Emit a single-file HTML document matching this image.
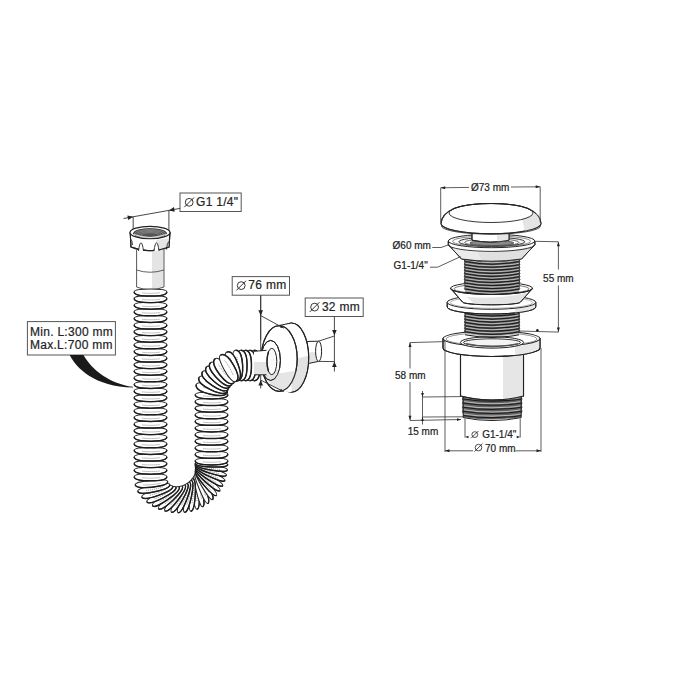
<!DOCTYPE html>
<html><head><meta charset="utf-8"><style>
html,body{margin:0;padding:0;background:#fff;}
svg{display:block;font-family:"Liberation Sans",sans-serif;}
</style></head><body>
<svg width="700" height="700" viewBox="0 0 700 700">
<defs><clipPath id="cupclip"><path d="M440,250 L545,250 L545,288.3 L532.5,288.3 A41,6.2 0 0 1 450.5,288.3 L440,288.3 Z"/></clipPath><clipPath id="cl1"><rect x="0" y="0" width="262.5" height="700"/></clipPath></defs>
<rect width="700" height="700" fill="#fff"/>
<rect x="180" y="193" width="61.2" height="18.5" fill="#fff" stroke="#555" stroke-width="1.0"/>
<circle cx="189.2" cy="202.3" r="3.9" fill="none" stroke="#222" stroke-width="0.9"/>
<line x1="184.32" y1="207.18" x2="194.07" y2="197.43" stroke="#222" stroke-width="0.9"/>
<text x="196" y="206.4" font-size="12" text-anchor="start" fill="#222" stroke="#222" stroke-width="0.2" letter-spacing="0.3" >G1 1/4"</text>
<line x1="123.5" y1="218.5" x2="180" y2="208.4" stroke="#333" stroke-width="0.9"/>
<line x1="133.2" y1="217" x2="133.2" y2="232" stroke="#333" stroke-width="0.9"/>
<line x1="168.9" y1="210.5" x2="168.9" y2="232" stroke="#333" stroke-width="0.9"/>
<path d="M133.2,216.8 L128.2,220.12 L127.37,215.4 Z" fill="#222"/>
<path d="M168.9,210.4 L173.9,207.08 L174.73,211.8 Z" fill="#222"/>
<path d="M136.6,250 L136.6,287 Q150,292.5 164,287 L164,250 Z" fill="#fff" stroke="none" stroke-width="1.0" />
<path d="M152,250 L163.6,250 L163.6,287.2 Q158,289.6 152,290.2 Z" fill="#e4e4e4"/>
<path d="M136.6,250 L136.6,287 Q150,292.5 164,287 L164,250" fill="none" stroke="#3a3a3a" stroke-width="0.85" />
<path d="M136.6,270 Q150,274.5 164,270" fill="none" stroke="#3a3a3a" stroke-width="0.8" />
<path d="M130.2,232.5 L131,247 Q150,254.5 169,247 L170,232.5 Z" fill="#fff" stroke="#222" stroke-width="1.1" />
<path d="M156,240 L169.5,238 L169,247 Q160,251 156,251.5 Z" fill="#e6e6e6"/>
<path d="M130.2,232.5 L131,247 Q150,254.5 169,247 L170,232.5" fill="none" stroke="#222" stroke-width="1.1" />
<path d="M138.5,251 Q139.5,243 141,242.8 Q142.5,243 143.5,251" fill="#fff" stroke="#222" stroke-width="0.9" />
<path d="M154.0,251 Q155.0,243 156.5,242.8 Q158.0,243 159.0,251" fill="#fff" stroke="#222" stroke-width="0.9" />
<path d="M166.5,249.5 Q167,243 168.8,241.5" fill="none" stroke="#222" stroke-width="0.9" />
<path d="M132.5,245 Q132.3,241 131.2,239.5" fill="none" stroke="#222" stroke-width="0.8" />
<ellipse cx="150" cy="232.5" rx="20" ry="6.2" fill="#fff" stroke="#222" stroke-width="1.2" />
<ellipse cx="150" cy="233.3" rx="16.5" ry="4.6" fill="#555" stroke="#222" stroke-width="0.9" />
<ellipse cx="150" cy="233.6" rx="15.5" ry="4.2" fill="none" stroke="#aaa" stroke-width="0.5" />
<ellipse cx="150" cy="234.1" rx="13.3" ry="3.6" fill="none" stroke="#aaa" stroke-width="0.5" />
<ellipse cx="150" cy="234.6" rx="11.1" ry="3" fill="none" stroke="#aaa" stroke-width="0.5" />
<ellipse cx="150" cy="235.1" rx="8.9" ry="2.4" fill="none" stroke="#aaa" stroke-width="0.5" />
<path d="M134,234.5 Q150,240.5 166,234.5" fill="none" stroke="#eee" stroke-width="0.9" />
<path d="M193.76,476.85 C191.94,477.02 192.2,485.18 192.97,493.3 C193.74,501.41 195.03,509.47 196.85,509.3 C199.56,509.04 199.55,500.86 198.78,492.74 C198,484.63 196.47,476.59 193.76,476.85 Z" fill="#fff" stroke="#262626" stroke-width="1.05" />
<path d="M196.85,509.3 C199.56,509.04 199.55,500.86 198.78,492.74 C198,484.63 196.47,476.59 193.76,476.85" fill="none" stroke="#1e1e1e" stroke-width="1.45" />
<path d="M195.35,484.06 Q197.3,492.88 197.05,501.91" fill="none" stroke="#666" stroke-width="0.7" stroke-dasharray="1.1 0.9"/>
<path d="M194.62,475.1 C192.87,475.54 194.36,483.56 196.34,491.47 C198.32,499.37 200.8,507.16 202.54,506.72 C205.15,506.07 203.9,497.98 201.92,490.07 C199.94,482.16 197.22,474.44 194.62,475.1 Z" fill="#fff" stroke="#262626" stroke-width="1.05" />
<path d="M202.54,506.72 C205.15,506.07 203.9,497.98 201.92,490.07 C199.94,482.16 197.22,474.44 194.62,475.1" fill="none" stroke="#1e1e1e" stroke-width="1.45" />
<path d="M197.27,481.99 Q200.52,490.42 201.63,499.38" fill="none" stroke="#666" stroke-width="0.7" stroke-dasharray="1.1 0.9"/>
<path d="M192.63,478.62 C190.77,478.51 189.79,486.62 189.33,494.76 C188.87,502.89 188.93,511.06 190.79,511.17 C193.54,511.32 194.78,503.23 195.24,495.09 C195.7,486.95 195.38,478.77 192.63,478.62 Z" fill="#fff" stroke="#262626" stroke-width="1.05" />
<path d="M190.79,511.17 C193.54,511.32 194.78,503.23 195.24,495.09 C195.7,486.95 195.38,478.77 192.63,478.62" fill="none" stroke="#1e1e1e" stroke-width="1.45" />
<path d="M193.12,485.99 Q193.71,495.01 192.1,503.89" fill="none" stroke="#666" stroke-width="0.7" stroke-dasharray="1.1 0.9"/>
<path d="M195.22,473.39 C193.58,474.07 196.26,481.79 199.4,489.31 C202.53,496.83 206.13,504.16 207.77,503.48 C210.22,502.45 207.77,494.64 204.63,487.12 C201.5,479.6 197.67,472.37 195.22,473.39 Z" fill="#fff" stroke="#262626" stroke-width="1.05" />
<path d="M207.77,503.48 C210.22,502.45 207.77,494.64 204.63,487.12 C201.5,479.6 197.67,472.37 195.22,473.39" fill="none" stroke="#1e1e1e" stroke-width="1.45" />
<path d="M198.87,479.81 Q203.34,487.66 205.78,496.36" fill="none" stroke="#666" stroke-width="0.7" stroke-dasharray="1.1 0.9"/>
<path d="M191.2,480.38 C189.35,479.99 187.14,487.85 185.46,495.82 C183.77,503.8 182.61,511.88 184.46,512.27 C187.19,512.85 189.64,505.04 191.33,497.06 C193.02,489.09 193.93,480.95 191.2,480.38 Z" fill="#fff" stroke="#262626" stroke-width="1.05" />
<path d="M184.46,512.27 C187.19,512.85 189.64,505.04 191.33,497.06 C193.02,489.09 193.93,480.95 191.2,480.38" fill="none" stroke="#1e1e1e" stroke-width="1.45" />
<path d="M190.57,487.74 Q189.79,496.74 186.86,505.28" fill="none" stroke="#666" stroke-width="0.7" stroke-dasharray="1.1 0.9"/>
<path d="M195.59,471.75 C194.1,472.65 197.89,479.88 202.11,486.86 C206.33,493.83 210.96,500.55 212.45,499.65 C214.7,498.29 211.12,490.94 206.9,483.96 C202.69,476.99 197.84,470.39 195.59,471.75 Z" fill="#fff" stroke="#262626" stroke-width="1.05" />
<path d="M212.45,499.65 C214.7,498.29 211.12,490.94 206.9,483.96 C202.69,476.99 197.84,470.39 195.59,471.75" fill="none" stroke="#1e1e1e" stroke-width="1.45" />
<path d="M200.16,477.56 Q205.74,484.67 209.43,492.91" fill="none" stroke="#666" stroke-width="0.7" stroke-dasharray="1.1 0.9"/>
<path d="M189.46,482.09 C187.66,481.41 184.27,488.84 181.4,496.47 C178.53,504.1 176.16,511.92 177.96,512.59 C180.61,513.59 184.22,506.24 187.1,498.62 C189.97,490.99 192.1,483.08 189.46,482.09 Z" fill="#fff" stroke="#262626" stroke-width="1.05" />
<path d="M177.96,512.59 C180.61,513.59 184.22,506.24 187.1,498.62 C189.97,490.99 192.1,483.08 189.46,482.09" fill="none" stroke="#1e1e1e" stroke-width="1.45" />
<path d="M187.71,489.27 Q185.58,498.05 181.39,506.05" fill="none" stroke="#666" stroke-width="0.7" stroke-dasharray="1.1 0.9"/>
<path d="M216.54,495.33 C217.86,494.24 213.04,487.65 207.85,481.36 C202.66,475.08 197.1,469.1 195.77,470.2 C193.78,471.85 198.4,478.6 203.59,484.88 C208.78,491.16 214.54,496.98 216.54,495.33 Z" fill="#fff" stroke="#262626" stroke-width="1.05" />
<path d="M195.77,470.2 C193.78,471.85 198.4,478.6 203.59,484.88 C208.78,491.16 214.54,496.98 216.54,495.33" fill="none" stroke="#1e1e1e" stroke-width="1.45" />
<path d="M211.17,490.25 Q204.61,484.04 199.75,476.43" fill="none" stroke="#666" stroke-width="0.7" stroke-dasharray="1.1 0.9"/>
<path d="M187.37,483.69 C185.67,482.73 181.19,489.57 177.2,496.67 C173.21,503.78 169.7,511.15 171.4,512.11 C173.9,513.51 178.59,506.8 182.59,499.7 C186.58,492.59 189.87,485.09 187.37,483.69 Z" fill="#fff" stroke="#262626" stroke-width="1.05" />
<path d="M171.4,512.11 C173.9,513.51 178.59,506.8 182.59,499.7 C186.58,492.59 189.87,485.09 187.37,483.69" fill="none" stroke="#1e1e1e" stroke-width="1.45" />
<path d="M184.56,490.53 Q181.13,498.88 175.78,506.16" fill="none" stroke="#666" stroke-width="0.7" stroke-dasharray="1.1 0.9"/>
<path d="M219.98,490.62 C221.11,489.36 215.39,483.54 209.34,478.08 C203.3,472.61 196.93,467.5 195.8,468.75 C194.08,470.65 199.64,476.66 205.69,482.12 C211.73,487.59 218.26,492.52 219.98,490.62 Z" fill="#fff" stroke="#262626" stroke-width="1.05" />
<path d="M195.8,468.75 C194.08,470.65 199.64,476.66 205.69,482.12 C211.73,487.59 218.26,492.52 219.98,490.62" fill="none" stroke="#1e1e1e" stroke-width="1.45" />
<path d="M213.94,486.37 Q206.55,481.17 200.64,474.34" fill="none" stroke="#666" stroke-width="0.7" stroke-dasharray="1.1 0.9"/>
<path d="M184.94,485.11 C183.37,483.88 177.91,489.96 172.9,496.39 C167.89,502.82 163.32,509.59 164.89,510.81 C167.18,512.59 172.83,506.67 177.85,500.24 C182.86,493.82 187.22,486.89 184.94,485.11 Z" fill="#fff" stroke="#262626" stroke-width="1.05" />
<path d="M164.89,510.81 C167.18,512.59 172.83,506.67 177.85,500.24 C182.86,493.82 187.22,486.89 184.94,485.11" fill="none" stroke="#1e1e1e" stroke-width="1.45" />
<path d="M181.14,491.44 Q176.49,499.19 170.11,505.58" fill="none" stroke="#666" stroke-width="0.7" stroke-dasharray="1.1 0.9"/>
<path d="M222.77,485.61 C223.7,484.23 217.2,479.29 210.43,474.75 C203.67,470.2 196.64,466.04 195.71,467.43 C194.3,469.53 200.67,474.67 207.43,479.21 C214.19,483.76 221.36,487.71 222.77,485.61 Z" fill="#fff" stroke="#262626" stroke-width="1.05" />
<path d="M195.71,467.43 C194.3,469.53 200.67,474.67 207.43,479.21 C214.19,483.76 221.36,487.71 222.77,485.61" fill="none" stroke="#1e1e1e" stroke-width="1.45" />
<path d="M216.18,482.27 Q208.13,478.18 201.3,472.26" fill="none" stroke="#666" stroke-width="0.7" stroke-dasharray="1.1 0.9"/>
<path d="M182.17,486.23 C180.77,484.76 174.47,489.96 168.56,495.57 C162.65,501.19 157.14,507.21 158.53,508.68 C160.56,510.81 167.04,505.8 172.94,500.19 C178.85,494.57 184.19,488.36 182.17,486.23 Z" fill="#fff" stroke="#262626" stroke-width="1.05" />
<path d="M158.53,508.68 C160.56,510.81 167.04,505.8 172.94,500.19 C178.85,494.57 184.19,488.36 182.17,486.23" fill="none" stroke="#1e1e1e" stroke-width="1.45" />
<path d="M177.47,491.94 Q171.73,498.91 164.47,504.28" fill="none" stroke="#666" stroke-width="0.7" stroke-dasharray="1.1 0.9"/>
<path d="M224.92,480.41 C225.63,478.93 218.49,474.97 211.16,471.42 C203.82,467.88 196.28,464.75 195.57,466.22 C194.48,468.48 201.51,472.66 208.84,476.21 C216.18,479.76 223.83,482.67 224.92,480.41 Z" fill="#fff" stroke="#262626" stroke-width="1.05" />
<path d="M195.57,466.22 C194.48,468.48 201.51,472.66 208.84,476.21 C216.18,479.76 223.83,482.67 224.92,480.41" fill="none" stroke="#1e1e1e" stroke-width="1.45" />
<path d="M217.92,478.03 Q209.37,475.12 201.78,470.22" fill="none" stroke="#666" stroke-width="0.7" stroke-dasharray="1.1 0.9"/>
<path d="M226.44,475.1 C226.94,473.57 219.32,470.64 211.56,468.15 C203.8,465.66 195.9,463.6 195.4,465.14 C194.65,467.5 202.19,470.65 209.95,473.14 C217.71,475.64 225.69,477.46 226.44,475.1 Z" fill="#fff" stroke="#262626" stroke-width="1.05" />
<path d="M195.4,465.14 C194.65,467.5 202.19,470.65 209.95,473.14 C217.71,475.64 225.69,477.46 226.44,475.1" fill="none" stroke="#1e1e1e" stroke-width="1.45" />
<path d="M219.18,473.72 Q210.31,472.02 202.11,468.24" fill="none" stroke="#666" stroke-width="0.7" stroke-dasharray="1.1 0.9"/>
<path d="M179.11,486.92 C177.92,485.24 170.92,489.45 164.26,494.15 C157.6,498.84 151.27,504.01 152.46,505.7 C154.17,508.13 161.32,504.12 167.98,499.43 C174.64,494.73 180.82,489.35 179.11,486.92 Z" fill="#fff" stroke="#262626" stroke-width="1.05" />
<path d="M152.46,505.7 C154.17,508.13 161.32,504.12 167.98,499.43 C174.64,494.73 180.82,489.35 179.11,486.92" fill="none" stroke="#1e1e1e" stroke-width="1.45" />
<path d="M173.63,491.88 Q166.93,497.94 158.97,502.21" fill="none" stroke="#666" stroke-width="0.7" stroke-dasharray="1.1 0.9"/>
<path d="M227.38,469.77 C227.66,468.21 219.71,466.36 211.68,464.95 C203.65,463.55 195.55,462.58 195.27,464.15 C194.85,466.57 202.76,468.65 210.79,470.06 C218.81,471.46 226.96,472.19 227.38,469.77 Z" fill="#fff" stroke="#262626" stroke-width="1.05" />
<path d="M195.27,464.15 C194.85,466.57 202.76,468.65 210.79,470.06 C218.81,471.46 226.96,472.19 227.38,469.77" fill="none" stroke="#1e1e1e" stroke-width="1.45" />
<path d="M220,469.39 Q210.98,468.93 202.34,466.3" fill="none" stroke="#666" stroke-width="0.7" stroke-dasharray="1.1 0.9"/>
<path d="M175.85,487 C174.9,485.13 167.37,488.31 160.11,492.01 C152.85,495.72 145.86,499.95 146.82,501.82 C148.19,504.5 155.83,501.56 163.09,497.85 C170.35,494.15 177.23,489.68 175.85,487 Z" fill="#fff" stroke="#262626" stroke-width="1.05" />
<path d="M146.82,501.82 C148.19,504.5 155.83,501.56 163.09,497.85 C170.35,494.15 177.23,489.68 175.85,487" fill="none" stroke="#1e1e1e" stroke-width="1.45" />
<path d="M169.73,491.13 Q162.24,496.19 153.76,499.28" fill="none" stroke="#666" stroke-width="0.7" stroke-dasharray="1.1 0.9"/>
<path d="M227.78,464.48 C227.84,462.92 219.71,462.17 211.57,461.86 C203.42,461.55 195.26,461.68 195.2,463.25 C195.11,465.67 203.23,466.66 211.37,466.97 C219.52,467.28 227.69,466.91 227.78,464.48 Z" fill="#fff" stroke="#262626" stroke-width="1.05" />
<path d="M195.2,463.25 C195.11,465.67 203.23,466.66 211.37,466.97 C219.52,467.28 227.69,466.91 227.78,464.48" fill="none" stroke="#1e1e1e" stroke-width="1.45" />
<path d="M220.42,465.1 Q211.42,465.86 202.5,464.42" fill="none" stroke="#666" stroke-width="0.7" stroke-dasharray="1.1 0.9"/>
<path d="M227.8,460.84 C227.8,458.58 219.65,457.94 211.5,457.94 C203.35,457.94 195.2,458.58 195.2,460.84 C195.2,464.04 203.35,464.94 211.5,464.94 C219.65,464.94 227.8,464.04 227.8,460.84 Z" fill="#fff" stroke="#262626" stroke-width="1.05" />
<path d="M195.2,460.84 C195.2,464.04 203.35,464.94 211.5,464.94 C219.65,464.94 227.8,464.04 227.8,460.84" fill="none" stroke="#1e1e1e" stroke-width="1.45" />
<path d="M220.47,461.74 Q211.5,462.84 202.53,461.74" fill="none" stroke="#666" stroke-width="0.7" stroke-dasharray="1.1 0.9"/>
<path d="M172.62,486.25 C171.91,484.23 164.02,486.35 156.33,489.04 C148.63,491.73 141.14,494.98 141.84,497 C142.85,499.89 150.83,498.01 158.52,495.33 C166.22,492.64 173.63,489.14 172.62,486.25 Z" fill="#fff" stroke="#262626" stroke-width="1.05" />
<path d="M141.84,497 C142.85,499.89 150.83,498.01 158.52,495.33 C166.22,492.64 173.63,489.14 172.62,486.25" fill="none" stroke="#1e1e1e" stroke-width="1.45" />
<path d="M165.99,489.52 Q157.89,493.51 149.06,495.43" fill="none" stroke="#666" stroke-width="0.7" stroke-dasharray="1.1 0.9"/>
<path d="M227.8,454.24 C227.8,451.98 219.65,451.34 211.5,451.34 C203.35,451.34 195.2,451.98 195.2,454.24 C195.2,457.44 203.35,458.34 211.5,458.34 C219.65,458.34 227.8,457.44 227.8,454.24 Z" fill="#fff" stroke="#262626" stroke-width="1.05" />
<path d="M195.2,454.24 C195.2,457.44 203.35,458.34 211.5,458.34 C219.65,458.34 227.8,457.44 227.8,454.24" fill="none" stroke="#1e1e1e" stroke-width="1.45" />
<path d="M220.47,455.14 Q211.5,456.24 202.53,455.14" fill="none" stroke="#666" stroke-width="0.7" stroke-dasharray="1.1 0.9"/>
<path d="M169.75,484.49 C169.3,482.36 161.2,483.45 153.22,485.14 C145.25,486.83 137.4,489.12 137.85,491.24 C138.5,494.28 146.65,493.44 154.62,491.76 C162.6,490.07 170.39,487.52 169.75,484.49 Z" fill="#fff" stroke="#262626" stroke-width="1.05" />
<path d="M137.85,491.24 C138.5,494.28 146.65,493.44 154.62,491.76 C162.6,490.07 170.39,487.52 169.75,484.49" fill="none" stroke="#1e1e1e" stroke-width="1.45" />
<path d="M162.76,486.89 Q154.21,489.82 145.22,490.6" fill="none" stroke="#666" stroke-width="0.7" stroke-dasharray="1.1 0.9"/>
<path d="M227.8,447.64 C227.8,445.38 219.65,444.74 211.5,444.74 C203.35,444.74 195.2,445.38 195.2,447.64 C195.2,450.84 203.35,451.74 211.5,451.74 C219.65,451.74 227.8,450.84 227.8,447.64 Z" fill="#fff" stroke="#262626" stroke-width="1.05" />
<path d="M195.2,447.64 C195.2,450.84 203.35,451.74 211.5,451.74 C219.65,451.74 227.8,450.84 227.8,447.64" fill="none" stroke="#1e1e1e" stroke-width="1.45" />
<path d="M220.47,448.54 Q211.5,449.64 202.53,448.54" fill="none" stroke="#666" stroke-width="0.7" stroke-dasharray="1.1 0.9"/>
<path d="M167.69,481.65 C167.48,479.45 159.31,479.6 151.2,480.37 C143.08,481.15 135.03,482.54 135.24,484.75 C135.54,487.88 143.73,487.99 151.85,487.21 C159.96,486.44 167.99,484.78 167.69,481.65 Z" fill="#fff" stroke="#262626" stroke-width="1.05" />
<path d="M135.24,484.75 C135.54,487.88 143.73,487.99 151.85,487.21 C159.96,486.44 167.99,484.78 167.69,481.65" fill="none" stroke="#1e1e1e" stroke-width="1.45" />
<path d="M160.47,483.24 Q151.65,485.19 142.63,484.95" fill="none" stroke="#666" stroke-width="0.7" stroke-dasharray="1.1 0.9"/>
<path d="M227.8,441.04 C227.8,438.78 219.65,438.14 211.5,438.14 C203.35,438.14 195.2,438.78 195.2,441.04 C195.2,444.24 203.35,445.14 211.5,445.14 C219.65,445.14 227.8,444.24 227.8,441.04 Z" fill="#fff" stroke="#262626" stroke-width="1.05" />
<path d="M195.2,441.04 C195.2,444.24 203.35,445.14 211.5,445.14 C219.65,445.14 227.8,444.24 227.8,441.04" fill="none" stroke="#1e1e1e" stroke-width="1.45" />
<path d="M220.47,441.94 Q211.5,443.04 202.53,441.94" fill="none" stroke="#666" stroke-width="0.7" stroke-dasharray="1.1 0.9"/>
<path d="M166.8,476.7 C166.8,474.44 158.65,473.8 150.5,473.8 C142.35,473.8 134.2,474.44 134.2,476.7 C134.2,479.9 142.35,480.8 150.5,480.8 C158.65,480.8 166.8,479.9 166.8,476.7 Z" fill="#fff" stroke="#262626" stroke-width="1.05" />
<path d="M134.2,476.7 C134.2,479.9 142.35,480.8 150.5,480.8 C158.65,480.8 166.8,479.9 166.8,476.7" fill="none" stroke="#1e1e1e" stroke-width="1.45" />
<path d="M159.47,477.6 Q150.5,478.7 141.53,477.6" fill="none" stroke="#666" stroke-width="0.7" stroke-dasharray="1.1 0.9"/>
<path d="M227.8,434.44 C227.8,432.18 219.65,431.54 211.5,431.54 C203.35,431.54 195.2,432.18 195.2,434.44 C195.2,437.64 203.35,438.54 211.5,438.54 C219.65,438.54 227.8,437.64 227.8,434.44 Z" fill="#fff" stroke="#262626" stroke-width="1.05" />
<path d="M195.2,434.44 C195.2,437.64 203.35,438.54 211.5,438.54 C219.65,438.54 227.8,437.64 227.8,434.44" fill="none" stroke="#1e1e1e" stroke-width="1.45" />
<path d="M220.47,435.34 Q211.5,436.44 202.53,435.34" fill="none" stroke="#666" stroke-width="0.7" stroke-dasharray="1.1 0.9"/>
<path d="M166.8,470.1 C166.8,467.84 158.65,467.2 150.5,467.2 C142.35,467.2 134.2,467.84 134.2,470.1 C134.2,473.3 142.35,474.2 150.5,474.2 C158.65,474.2 166.8,473.3 166.8,470.1 Z" fill="#fff" stroke="#262626" stroke-width="1.05" />
<path d="M134.2,470.1 C134.2,473.3 142.35,474.2 150.5,474.2 C158.65,474.2 166.8,473.3 166.8,470.1" fill="none" stroke="#1e1e1e" stroke-width="1.45" />
<path d="M159.47,471 Q150.5,472.1 141.53,471" fill="none" stroke="#666" stroke-width="0.7" stroke-dasharray="1.1 0.9"/>
<path d="M227.8,427.84 C227.8,425.58 219.65,424.94 211.5,424.94 C203.35,424.94 195.2,425.58 195.2,427.84 C195.2,431.04 203.35,431.94 211.5,431.94 C219.65,431.94 227.8,431.04 227.8,427.84 Z" fill="#fff" stroke="#262626" stroke-width="1.05" />
<path d="M195.2,427.84 C195.2,431.04 203.35,431.94 211.5,431.94 C219.65,431.94 227.8,431.04 227.8,427.84" fill="none" stroke="#1e1e1e" stroke-width="1.45" />
<path d="M220.47,428.74 Q211.5,429.84 202.53,428.74" fill="none" stroke="#666" stroke-width="0.7" stroke-dasharray="1.1 0.9"/>
<path d="M166.8,463.5 C166.8,461.24 158.65,460.6 150.5,460.6 C142.35,460.6 134.2,461.24 134.2,463.5 C134.2,466.7 142.35,467.6 150.5,467.6 C158.65,467.6 166.8,466.7 166.8,463.5 Z" fill="#fff" stroke="#262626" stroke-width="1.05" />
<path d="M134.2,463.5 C134.2,466.7 142.35,467.6 150.5,467.6 C158.65,467.6 166.8,466.7 166.8,463.5" fill="none" stroke="#1e1e1e" stroke-width="1.45" />
<path d="M159.47,464.4 Q150.5,465.5 141.53,464.4" fill="none" stroke="#666" stroke-width="0.7" stroke-dasharray="1.1 0.9"/>
<path d="M227.8,421.24 C227.8,418.98 219.65,418.34 211.5,418.34 C203.35,418.34 195.2,418.98 195.2,421.24 C195.2,424.44 203.35,425.34 211.5,425.34 C219.65,425.34 227.8,424.44 227.8,421.24 Z" fill="#fff" stroke="#262626" stroke-width="1.05" />
<path d="M195.2,421.24 C195.2,424.44 203.35,425.34 211.5,425.34 C219.65,425.34 227.8,424.44 227.8,421.24" fill="none" stroke="#1e1e1e" stroke-width="1.45" />
<path d="M220.47,422.14 Q211.5,423.24 202.53,422.14" fill="none" stroke="#666" stroke-width="0.7" stroke-dasharray="1.1 0.9"/>
<path d="M166.8,456.9 C166.8,454.64 158.65,454 150.5,454 C142.35,454 134.2,454.64 134.2,456.9 C134.2,460.1 142.35,461 150.5,461 C158.65,461 166.8,460.1 166.8,456.9 Z" fill="#fff" stroke="#262626" stroke-width="1.05" />
<path d="M134.2,456.9 C134.2,460.1 142.35,461 150.5,461 C158.65,461 166.8,460.1 166.8,456.9" fill="none" stroke="#1e1e1e" stroke-width="1.45" />
<path d="M159.47,457.8 Q150.5,458.9 141.53,457.8" fill="none" stroke="#666" stroke-width="0.7" stroke-dasharray="1.1 0.9"/>
<path d="M227.8,414.64 C227.8,412.38 219.65,411.74 211.5,411.74 C203.35,411.74 195.2,412.38 195.2,414.64 C195.2,417.84 203.35,418.74 211.5,418.74 C219.65,418.74 227.8,417.84 227.8,414.64 Z" fill="#fff" stroke="#262626" stroke-width="1.05" />
<path d="M195.2,414.64 C195.2,417.84 203.35,418.74 211.5,418.74 C219.65,418.74 227.8,417.84 227.8,414.64" fill="none" stroke="#1e1e1e" stroke-width="1.45" />
<path d="M220.47,415.54 Q211.5,416.64 202.53,415.54" fill="none" stroke="#666" stroke-width="0.7" stroke-dasharray="1.1 0.9"/>
<path d="M166.8,450.3 C166.8,448.04 158.65,447.4 150.5,447.4 C142.35,447.4 134.2,448.04 134.2,450.3 C134.2,453.5 142.35,454.4 150.5,454.4 C158.65,454.4 166.8,453.5 166.8,450.3 Z" fill="#fff" stroke="#262626" stroke-width="1.05" />
<path d="M134.2,450.3 C134.2,453.5 142.35,454.4 150.5,454.4 C158.65,454.4 166.8,453.5 166.8,450.3" fill="none" stroke="#1e1e1e" stroke-width="1.45" />
<path d="M159.47,451.2 Q150.5,452.3 141.53,451.2" fill="none" stroke="#666" stroke-width="0.7" stroke-dasharray="1.1 0.9"/>
<path d="M227.8,408.04 C227.8,405.78 219.65,405.14 211.5,405.14 C203.35,405.14 195.2,405.78 195.2,408.04 C195.2,411.24 203.35,412.14 211.5,412.14 C219.65,412.14 227.8,411.24 227.8,408.04 Z" fill="#fff" stroke="#262626" stroke-width="1.05" />
<path d="M195.2,408.04 C195.2,411.24 203.35,412.14 211.5,412.14 C219.65,412.14 227.8,411.24 227.8,408.04" fill="none" stroke="#1e1e1e" stroke-width="1.45" />
<path d="M220.47,408.94 Q211.5,410.04 202.53,408.94" fill="none" stroke="#666" stroke-width="0.7" stroke-dasharray="1.1 0.9"/>
<path d="M166.8,443.7 C166.8,441.44 158.65,440.8 150.5,440.8 C142.35,440.8 134.2,441.44 134.2,443.7 C134.2,446.9 142.35,447.8 150.5,447.8 C158.65,447.8 166.8,446.9 166.8,443.7 Z" fill="#fff" stroke="#262626" stroke-width="1.05" />
<path d="M134.2,443.7 C134.2,446.9 142.35,447.8 150.5,447.8 C158.65,447.8 166.8,446.9 166.8,443.7" fill="none" stroke="#1e1e1e" stroke-width="1.45" />
<path d="M159.47,444.6 Q150.5,445.7 141.53,444.6" fill="none" stroke="#666" stroke-width="0.7" stroke-dasharray="1.1 0.9"/>
<path d="M227.8,401.44 C227.8,399.18 219.65,398.54 211.5,398.54 C203.35,398.54 195.2,399.18 195.2,401.44 C195.2,404.64 203.35,405.54 211.5,405.54 C219.65,405.54 227.8,404.64 227.8,401.44 Z" fill="#fff" stroke="#262626" stroke-width="1.05" />
<path d="M195.2,401.44 C195.2,404.64 203.35,405.54 211.5,405.54 C219.65,405.54 227.8,404.64 227.8,401.44" fill="none" stroke="#1e1e1e" stroke-width="1.45" />
<path d="M220.47,402.34 Q211.5,403.44 202.53,402.34" fill="none" stroke="#666" stroke-width="0.7" stroke-dasharray="1.1 0.9"/>
<path d="M166.8,437.1 C166.8,434.84 158.65,434.2 150.5,434.2 C142.35,434.2 134.2,434.84 134.2,437.1 C134.2,440.3 142.35,441.2 150.5,441.2 C158.65,441.2 166.8,440.3 166.8,437.1 Z" fill="#fff" stroke="#262626" stroke-width="1.05" />
<path d="M134.2,437.1 C134.2,440.3 142.35,441.2 150.5,441.2 C158.65,441.2 166.8,440.3 166.8,437.1" fill="none" stroke="#1e1e1e" stroke-width="1.45" />
<path d="M159.47,438 Q150.5,439.1 141.53,438" fill="none" stroke="#666" stroke-width="0.7" stroke-dasharray="1.1 0.9"/>
<path d="M227.8,394.84 C227.8,392.58 219.65,391.94 211.5,391.94 C203.35,391.94 195.2,392.58 195.2,394.84 C195.2,398.04 203.35,398.94 211.5,398.94 C219.65,398.94 227.8,398.04 227.8,394.84 Z" fill="#fff" stroke="#262626" stroke-width="1.05" />
<path d="M195.2,394.84 C195.2,398.04 203.35,398.94 211.5,398.94 C219.65,398.94 227.8,398.04 227.8,394.84" fill="none" stroke="#1e1e1e" stroke-width="1.45" />
<path d="M220.47,395.74 Q211.5,396.84 202.53,395.74" fill="none" stroke="#666" stroke-width="0.7" stroke-dasharray="1.1 0.9"/>
<path d="M166.8,430.5 C166.8,428.24 158.65,427.6 150.5,427.6 C142.35,427.6 134.2,428.24 134.2,430.5 C134.2,433.7 142.35,434.6 150.5,434.6 C158.65,434.6 166.8,433.7 166.8,430.5 Z" fill="#fff" stroke="#262626" stroke-width="1.05" />
<path d="M134.2,430.5 C134.2,433.7 142.35,434.6 150.5,434.6 C158.65,434.6 166.8,433.7 166.8,430.5" fill="none" stroke="#1e1e1e" stroke-width="1.45" />
<path d="M159.47,431.4 Q150.5,432.5 141.53,431.4" fill="none" stroke="#666" stroke-width="0.7" stroke-dasharray="1.1 0.9"/>
<path d="M254.06,350.2 C250.78,350.2 249.86,357.85 249.86,365.5 C249.86,373.15 250.78,380.8 254.06,380.8 C258.9,380.8 260.26,373.15 260.26,365.5 C260.26,357.85 258.9,350.2 254.06,350.2 Z" fill="#fff" stroke="#262626" stroke-width="1.05" />
<path d="M254.06,380.8 C258.9,380.8 260.26,373.15 260.26,365.5 C260.26,357.85 258.9,350.2 254.06,350.2" fill="none" stroke="#1e1e1e" stroke-width="1.45" />
<path d="M254.96,357.08 Q256.06,365.5 254.96,373.92" fill="none" stroke="#666" stroke-width="0.7" stroke-dasharray="1.1 0.9"/>
<path d="M227.44,391.82 C228.17,388.63 220.57,385.95 212.76,384.17 C204.95,382.39 196.94,381.52 196.21,384.71 C195.14,389.43 202.64,392.54 210.45,394.31 C218.26,396.09 226.37,396.54 227.44,391.82 Z" fill="#fff" stroke="#262626" stroke-width="1.05" />
<path d="M196.21,384.71 C195.14,389.43 202.64,392.54 210.45,394.31 C218.26,396.09 226.37,396.54 227.44,391.82" fill="none" stroke="#1e1e1e" stroke-width="1.45" />
<path d="M220.21,391.1 Q211.38,390.22 203.04,387.19" fill="none" stroke="#666" stroke-width="0.7" stroke-dasharray="1.1 0.9"/>
<path d="M249.66,350.2 C246.38,350.2 245.46,357.85 245.46,365.5 C245.46,373.15 246.38,380.8 249.66,380.8 C254.5,380.8 255.86,373.15 255.86,365.5 C255.86,357.85 254.5,350.2 249.66,350.2 Z" fill="#fff" stroke="#262626" stroke-width="1.05" />
<path d="M249.66,380.8 C254.5,380.8 255.86,373.15 255.86,365.5 C255.86,357.85 254.5,350.2 249.66,350.2" fill="none" stroke="#1e1e1e" stroke-width="1.45" />
<path d="M250.56,357.08 Q251.66,365.5 250.56,373.92" fill="none" stroke="#666" stroke-width="0.7" stroke-dasharray="1.1 0.9"/>
<path d="M166.8,423.9 C166.8,421.64 158.65,421 150.5,421 C142.35,421 134.2,421.64 134.2,423.9 C134.2,427.1 142.35,428 150.5,428 C158.65,428 166.8,427.1 166.8,423.9 Z" fill="#fff" stroke="#262626" stroke-width="1.05" />
<path d="M134.2,423.9 C134.2,427.1 142.35,428 150.5,428 C158.65,428 166.8,427.1 166.8,423.9" fill="none" stroke="#1e1e1e" stroke-width="1.45" />
<path d="M159.47,424.8 Q150.5,425.9 141.53,424.8" fill="none" stroke="#666" stroke-width="0.7" stroke-dasharray="1.1 0.9"/>
<path d="M245.26,350.2 C241.98,350.2 241.06,357.85 241.06,365.5 C241.06,373.15 241.98,380.8 245.26,380.8 C250.1,380.8 251.46,373.15 251.46,365.5 C251.46,357.85 250.1,350.2 245.26,350.2 Z" fill="#fff" stroke="#262626" stroke-width="1.05" />
<path d="M245.26,380.8 C250.1,380.8 251.46,373.15 251.46,365.5 C251.46,357.85 250.1,350.2 245.26,350.2" fill="none" stroke="#1e1e1e" stroke-width="1.45" />
<path d="M246.16,357.08 Q247.26,365.5 246.16,373.92" fill="none" stroke="#666" stroke-width="0.7" stroke-dasharray="1.1 0.9"/>
<path d="M227.55,390.98 C228.97,388.02 222.25,383.77 215.13,380.35 C208.02,376.93 200.5,374.34 199.08,377.29 C196.98,381.65 203.51,386.3 210.63,389.72 C217.74,393.14 225.45,395.34 227.55,390.98 Z" fill="#fff" stroke="#262626" stroke-width="1.05" />
<path d="M199.08,377.29 C196.98,381.65 203.51,386.3 210.63,389.72 C217.74,393.14 225.45,395.34 227.55,390.98" fill="none" stroke="#1e1e1e" stroke-width="1.45" />
<path d="M220.75,388.71 Q212.45,385.94 205.09,381.18" fill="none" stroke="#666" stroke-width="0.7" stroke-dasharray="1.1 0.9"/>
<path d="M240.86,350.2 C237.58,350.2 236.66,357.85 236.66,365.5 C236.66,373.15 237.58,380.8 240.86,380.8 C245.7,380.8 247.06,373.15 247.06,365.5 C247.06,357.85 245.7,350.2 240.86,350.2 Z" fill="#fff" stroke="#262626" stroke-width="1.05" />
<path d="M240.86,380.8 C245.7,380.8 247.06,373.15 247.06,365.5 C247.06,357.85 245.7,350.2 240.86,350.2" fill="none" stroke="#1e1e1e" stroke-width="1.45" />
<path d="M241.76,357.08 Q242.86,365.5 241.76,373.92" fill="none" stroke="#666" stroke-width="0.7" stroke-dasharray="1.1 0.9"/>
<path d="M228.42,389.04 C230.26,386.33 224.32,381.21 217.87,376.85 C211.41,372.49 204.44,368.9 202.61,371.62 C199.9,375.63 205.59,381.11 212.05,385.47 C218.5,389.83 225.72,393.05 228.42,389.04 Z" fill="#fff" stroke="#262626" stroke-width="1.05" />
<path d="M202.61,371.62 C199.9,375.63 205.59,381.11 212.05,385.47 C218.5,389.83 225.72,393.05 228.42,389.04" fill="none" stroke="#1e1e1e" stroke-width="1.45" />
<path d="M222.11,385.87 Q214.4,381.99 207.91,376.29" fill="none" stroke="#666" stroke-width="0.7" stroke-dasharray="1.1 0.9"/>
<path d="M229.85,386.83 C231.98,384.34 226.75,378.64 220.92,373.65 C215.09,368.66 208.66,364.36 206.53,366.85 C203.38,370.52 208.33,376.55 214.16,381.55 C219.98,386.54 226.7,390.5 229.85,386.83 Z" fill="#fff" stroke="#262626" stroke-width="1.05" />
<path d="M206.53,366.85 C203.38,370.52 208.33,376.55 214.16,381.55 C219.98,386.54 226.7,390.5 229.85,386.83" fill="none" stroke="#1e1e1e" stroke-width="1.45" />
<path d="M224.02,383.02 Q216.89,378.36 211.19,372.03" fill="none" stroke="#666" stroke-width="0.7" stroke-dasharray="1.1 0.9"/>
<path d="M166.8,417.3 C166.8,415.04 158.65,414.4 150.5,414.4 C142.35,414.4 134.2,415.04 134.2,417.3 C134.2,420.5 142.35,421.4 150.5,421.4 C158.65,421.4 166.8,420.5 166.8,417.3 Z" fill="#fff" stroke="#262626" stroke-width="1.05" />
<path d="M134.2,417.3 C134.2,420.5 142.35,421.4 150.5,421.4 C158.65,421.4 166.8,420.5 166.8,417.3" fill="none" stroke="#1e1e1e" stroke-width="1.45" />
<path d="M159.47,418.2 Q150.5,419.3 141.53,418.2" fill="none" stroke="#666" stroke-width="0.7" stroke-dasharray="1.1 0.9"/>
<path d="M235.63,350.24 C232.36,350.42 231.85,358.1 232.27,365.74 C232.68,373.38 234.02,380.97 237.29,380.79 C242.12,380.53 243.07,372.81 242.65,365.18 C242.23,357.54 240.45,349.97 235.63,350.24 Z" fill="#fff" stroke="#262626" stroke-width="1.05" />
<path d="M237.29,380.79 C242.12,380.53 243.07,372.81 242.65,365.18 C242.23,357.54 240.45,349.97 235.63,350.24" fill="none" stroke="#1e1e1e" stroke-width="1.45" />
<path d="M236.9,357.06 Q238.46,365.4 237.82,373.87" fill="none" stroke="#666" stroke-width="0.7" stroke-dasharray="1.1 0.9"/>
<path d="M231.75,384.75 C234.13,382.5 229.53,376.31 224.27,370.76 C219,365.21 213.06,360.3 210.69,362.55 C207.18,365.88 211.46,372.37 216.72,377.92 C221.99,383.47 228.24,388.08 231.75,384.75 Z" fill="#fff" stroke="#262626" stroke-width="1.05" />
<path d="M210.69,362.55 C207.18,365.88 211.46,372.37 216.72,377.92 C221.99,383.47 228.24,388.08 231.75,384.75" fill="none" stroke="#1e1e1e" stroke-width="1.45" />
<path d="M226.36,380.38 Q219.77,375.03 214.77,368.17" fill="none" stroke="#666" stroke-width="0.7" stroke-dasharray="1.1 0.9"/>
<path d="M226.94,352.07 C223.87,353.19 225.61,360.7 228.23,367.89 C230.85,375.07 234.33,381.95 237.41,380.83 C241.95,379.17 240.62,371.52 238,364.33 C235.39,357.14 231.49,350.42 226.94,352.07 Z" fill="#fff" stroke="#262626" stroke-width="1.05" />
<path d="M237.41,380.83 C241.95,379.17 240.62,371.52 238,364.33 C235.39,357.14 231.49,350.42 226.94,352.07" fill="none" stroke="#1e1e1e" stroke-width="1.45" />
<path d="M230.14,358.23 Q234.06,365.76 235.9,374.05" fill="none" stroke="#666" stroke-width="0.7" stroke-dasharray="1.1 0.9"/>
<path d="M233.86,382.94 C236.46,380.95 232.55,374.32 227.9,368.24 C223.25,362.16 217.87,356.65 215.27,358.64 C211.42,361.58 214.99,368.48 219.64,374.56 C224.29,380.64 230.02,385.88 233.86,382.94 Z" fill="#fff" stroke="#262626" stroke-width="1.05" />
<path d="M215.27,358.64 C211.42,361.58 214.99,368.48 219.64,374.56 C224.29,380.64 230.02,385.88 233.86,382.94" fill="none" stroke="#1e1e1e" stroke-width="1.45" />
<path d="M228.96,378.02 Q222.97,372.01 218.73,364.66" fill="none" stroke="#666" stroke-width="0.7" stroke-dasharray="1.1 0.9"/>
<path d="M220.53,355.1 C217.7,356.74 220.74,363.83 224.58,370.44 C228.41,377.06 233.05,383.22 235.88,381.57 C240.07,379.15 237.41,371.84 233.57,365.23 C229.73,358.61 224.72,352.67 220.53,355.1 Z" fill="#fff" stroke="#262626" stroke-width="1.05" />
<path d="M235.88,381.57 C240.07,379.15 237.41,371.84 233.57,365.23 C229.73,358.61 224.72,352.67 220.53,355.1" fill="none" stroke="#1e1e1e" stroke-width="1.45" />
<path d="M224.77,360.61 Q229.94,367.33 233.21,375.16" fill="none" stroke="#666" stroke-width="0.7" stroke-dasharray="1.1 0.9"/>
<path d="M166.8,410.7 C166.8,408.44 158.65,407.8 150.5,407.8 C142.35,407.8 134.2,408.44 134.2,410.7 C134.2,413.9 142.35,414.8 150.5,414.8 C158.65,414.8 166.8,413.9 166.8,410.7 Z" fill="#fff" stroke="#262626" stroke-width="1.05" />
<path d="M134.2,410.7 C134.2,413.9 142.35,414.8 150.5,414.8 C158.65,414.8 166.8,413.9 166.8,410.7" fill="none" stroke="#1e1e1e" stroke-width="1.45" />
<path d="M159.47,411.6 Q150.5,412.7 141.53,411.6" fill="none" stroke="#666" stroke-width="0.7" stroke-dasharray="1.1 0.9"/>
<path d="M166.8,404.1 C166.8,401.84 158.65,401.2 150.5,401.2 C142.35,401.2 134.2,401.84 134.2,404.1 C134.2,407.3 142.35,408.2 150.5,408.2 C158.65,408.2 166.8,407.3 166.8,404.1 Z" fill="#fff" stroke="#262626" stroke-width="1.05" />
<path d="M134.2,404.1 C134.2,407.3 142.35,408.2 150.5,408.2 C158.65,408.2 166.8,407.3 166.8,404.1" fill="none" stroke="#1e1e1e" stroke-width="1.45" />
<path d="M159.47,405 Q150.5,406.1 141.53,405" fill="none" stroke="#666" stroke-width="0.7" stroke-dasharray="1.1 0.9"/>
<path d="M166.8,397.5 C166.8,395.24 158.65,394.6 150.5,394.6 C142.35,394.6 134.2,395.24 134.2,397.5 C134.2,400.7 142.35,401.6 150.5,401.6 C158.65,401.6 166.8,400.7 166.8,397.5 Z" fill="#fff" stroke="#262626" stroke-width="1.05" />
<path d="M134.2,397.5 C134.2,400.7 142.35,401.6 150.5,401.6 C158.65,401.6 166.8,400.7 166.8,397.5" fill="none" stroke="#1e1e1e" stroke-width="1.45" />
<path d="M159.47,398.4 Q150.5,399.5 141.53,398.4" fill="none" stroke="#666" stroke-width="0.7" stroke-dasharray="1.1 0.9"/>
<path d="M166.8,390.9 C166.8,388.64 158.65,388 150.5,388 C142.35,388 134.2,388.64 134.2,390.9 C134.2,394.1 142.35,395 150.5,395 C158.65,395 166.8,394.1 166.8,390.9 Z" fill="#fff" stroke="#262626" stroke-width="1.05" />
<path d="M134.2,390.9 C134.2,394.1 142.35,395 150.5,395 C158.65,395 166.8,394.1 166.8,390.9" fill="none" stroke="#1e1e1e" stroke-width="1.45" />
<path d="M159.47,391.8 Q150.5,392.9 141.53,391.8" fill="none" stroke="#666" stroke-width="0.7" stroke-dasharray="1.1 0.9"/>
<path d="M166.8,384.3 C166.8,382.04 158.65,381.4 150.5,381.4 C142.35,381.4 134.2,382.04 134.2,384.3 C134.2,387.5 142.35,388.4 150.5,388.4 C158.65,388.4 166.8,387.5 166.8,384.3 Z" fill="#fff" stroke="#262626" stroke-width="1.05" />
<path d="M134.2,384.3 C134.2,387.5 142.35,388.4 150.5,388.4 C158.65,388.4 166.8,387.5 166.8,384.3" fill="none" stroke="#1e1e1e" stroke-width="1.45" />
<path d="M159.47,385.2 Q150.5,386.3 141.53,385.2" fill="none" stroke="#666" stroke-width="0.7" stroke-dasharray="1.1 0.9"/>
<path d="M166.8,377.7 C166.8,375.44 158.65,374.8 150.5,374.8 C142.35,374.8 134.2,375.44 134.2,377.7 C134.2,380.9 142.35,381.8 150.5,381.8 C158.65,381.8 166.8,380.9 166.8,377.7 Z" fill="#fff" stroke="#262626" stroke-width="1.05" />
<path d="M134.2,377.7 C134.2,380.9 142.35,381.8 150.5,381.8 C158.65,381.8 166.8,380.9 166.8,377.7" fill="none" stroke="#1e1e1e" stroke-width="1.45" />
<path d="M159.47,378.6 Q150.5,379.7 141.53,378.6" fill="none" stroke="#666" stroke-width="0.7" stroke-dasharray="1.1 0.9"/>
<path d="M166.8,371.1 C166.8,368.84 158.65,368.2 150.5,368.2 C142.35,368.2 134.2,368.84 134.2,371.1 C134.2,374.3 142.35,375.2 150.5,375.2 C158.65,375.2 166.8,374.3 166.8,371.1 Z" fill="#fff" stroke="#262626" stroke-width="1.05" />
<path d="M134.2,371.1 C134.2,374.3 142.35,375.2 150.5,375.2 C158.65,375.2 166.8,374.3 166.8,371.1" fill="none" stroke="#1e1e1e" stroke-width="1.45" />
<path d="M159.47,372 Q150.5,373.1 141.53,372" fill="none" stroke="#666" stroke-width="0.7" stroke-dasharray="1.1 0.9"/>
<path d="M166.8,364.5 C166.8,362.24 158.65,361.6 150.5,361.6 C142.35,361.6 134.2,362.24 134.2,364.5 C134.2,367.7 142.35,368.6 150.5,368.6 C158.65,368.6 166.8,367.7 166.8,364.5 Z" fill="#fff" stroke="#262626" stroke-width="1.05" />
<path d="M134.2,364.5 C134.2,367.7 142.35,368.6 150.5,368.6 C158.65,368.6 166.8,367.7 166.8,364.5" fill="none" stroke="#1e1e1e" stroke-width="1.45" />
<path d="M159.47,365.4 Q150.5,366.5 141.53,365.4" fill="none" stroke="#666" stroke-width="0.7" stroke-dasharray="1.1 0.9"/>
<path d="M166.8,357.9 C166.8,355.64 158.65,355 150.5,355 C142.35,355 134.2,355.64 134.2,357.9 C134.2,361.1 142.35,362 150.5,362 C158.65,362 166.8,361.1 166.8,357.9 Z" fill="#fff" stroke="#262626" stroke-width="1.05" />
<path d="M134.2,357.9 C134.2,361.1 142.35,362 150.5,362 C158.65,362 166.8,361.1 166.8,357.9" fill="none" stroke="#1e1e1e" stroke-width="1.45" />
<path d="M159.47,358.8 Q150.5,359.9 141.53,358.8" fill="none" stroke="#666" stroke-width="0.7" stroke-dasharray="1.1 0.9"/>
<path d="M166.8,351.3 C166.8,349.04 158.65,348.4 150.5,348.4 C142.35,348.4 134.2,349.04 134.2,351.3 C134.2,354.5 142.35,355.4 150.5,355.4 C158.65,355.4 166.8,354.5 166.8,351.3 Z" fill="#fff" stroke="#262626" stroke-width="1.05" />
<path d="M134.2,351.3 C134.2,354.5 142.35,355.4 150.5,355.4 C158.65,355.4 166.8,354.5 166.8,351.3" fill="none" stroke="#1e1e1e" stroke-width="1.45" />
<path d="M159.47,352.2 Q150.5,353.3 141.53,352.2" fill="none" stroke="#666" stroke-width="0.7" stroke-dasharray="1.1 0.9"/>
<path d="M166.8,344.7 C166.8,342.44 158.65,341.8 150.5,341.8 C142.35,341.8 134.2,342.44 134.2,344.7 C134.2,347.9 142.35,348.8 150.5,348.8 C158.65,348.8 166.8,347.9 166.8,344.7 Z" fill="#fff" stroke="#262626" stroke-width="1.05" />
<path d="M134.2,344.7 C134.2,347.9 142.35,348.8 150.5,348.8 C158.65,348.8 166.8,347.9 166.8,344.7" fill="none" stroke="#1e1e1e" stroke-width="1.45" />
<path d="M159.47,345.6 Q150.5,346.7 141.53,345.6" fill="none" stroke="#666" stroke-width="0.7" stroke-dasharray="1.1 0.9"/>
<path d="M166.8,338.1 C166.8,335.84 158.65,335.2 150.5,335.2 C142.35,335.2 134.2,335.84 134.2,338.1 C134.2,341.3 142.35,342.2 150.5,342.2 C158.65,342.2 166.8,341.3 166.8,338.1 Z" fill="#fff" stroke="#262626" stroke-width="1.05" />
<path d="M134.2,338.1 C134.2,341.3 142.35,342.2 150.5,342.2 C158.65,342.2 166.8,341.3 166.8,338.1" fill="none" stroke="#1e1e1e" stroke-width="1.45" />
<path d="M159.47,339 Q150.5,340.1 141.53,339" fill="none" stroke="#666" stroke-width="0.7" stroke-dasharray="1.1 0.9"/>
<path d="M166.8,331.5 C166.8,329.24 158.65,328.6 150.5,328.6 C142.35,328.6 134.2,329.24 134.2,331.5 C134.2,334.7 142.35,335.6 150.5,335.6 C158.65,335.6 166.8,334.7 166.8,331.5 Z" fill="#fff" stroke="#262626" stroke-width="1.05" />
<path d="M134.2,331.5 C134.2,334.7 142.35,335.6 150.5,335.6 C158.65,335.6 166.8,334.7 166.8,331.5" fill="none" stroke="#1e1e1e" stroke-width="1.45" />
<path d="M159.47,332.4 Q150.5,333.5 141.53,332.4" fill="none" stroke="#666" stroke-width="0.7" stroke-dasharray="1.1 0.9"/>
<path d="M166.8,324.9 C166.8,322.64 158.65,322 150.5,322 C142.35,322 134.2,322.64 134.2,324.9 C134.2,328.1 142.35,329 150.5,329 C158.65,329 166.8,328.1 166.8,324.9 Z" fill="#fff" stroke="#262626" stroke-width="1.05" />
<path d="M134.2,324.9 C134.2,328.1 142.35,329 150.5,329 C158.65,329 166.8,328.1 166.8,324.9" fill="none" stroke="#1e1e1e" stroke-width="1.45" />
<path d="M159.47,325.8 Q150.5,326.9 141.53,325.8" fill="none" stroke="#666" stroke-width="0.7" stroke-dasharray="1.1 0.9"/>
<path d="M166.8,318.3 C166.8,316.04 158.65,315.4 150.5,315.4 C142.35,315.4 134.2,316.04 134.2,318.3 C134.2,321.5 142.35,322.4 150.5,322.4 C158.65,322.4 166.8,321.5 166.8,318.3 Z" fill="#fff" stroke="#262626" stroke-width="1.05" />
<path d="M134.2,318.3 C134.2,321.5 142.35,322.4 150.5,322.4 C158.65,322.4 166.8,321.5 166.8,318.3" fill="none" stroke="#1e1e1e" stroke-width="1.45" />
<path d="M159.47,319.2 Q150.5,320.3 141.53,319.2" fill="none" stroke="#666" stroke-width="0.7" stroke-dasharray="1.1 0.9"/>
<path d="M166.8,311.7 C166.8,309.44 158.65,308.8 150.5,308.8 C142.35,308.8 134.2,309.44 134.2,311.7 C134.2,314.9 142.35,315.8 150.5,315.8 C158.65,315.8 166.8,314.9 166.8,311.7 Z" fill="#fff" stroke="#262626" stroke-width="1.05" />
<path d="M134.2,311.7 C134.2,314.9 142.35,315.8 150.5,315.8 C158.65,315.8 166.8,314.9 166.8,311.7" fill="none" stroke="#1e1e1e" stroke-width="1.45" />
<path d="M159.47,312.6 Q150.5,313.7 141.53,312.6" fill="none" stroke="#666" stroke-width="0.7" stroke-dasharray="1.1 0.9"/>
<path d="M166.8,305.1 C166.8,302.84 158.65,302.2 150.5,302.2 C142.35,302.2 134.2,302.84 134.2,305.1 C134.2,308.3 142.35,309.2 150.5,309.2 C158.65,309.2 166.8,308.3 166.8,305.1 Z" fill="#fff" stroke="#262626" stroke-width="1.05" />
<path d="M134.2,305.1 C134.2,308.3 142.35,309.2 150.5,309.2 C158.65,309.2 166.8,308.3 166.8,305.1" fill="none" stroke="#1e1e1e" stroke-width="1.45" />
<path d="M159.47,306 Q150.5,307.1 141.53,306" fill="none" stroke="#666" stroke-width="0.7" stroke-dasharray="1.1 0.9"/>
<path d="M166.8,298.5 C166.8,296.24 158.65,295.6 150.5,295.6 C142.35,295.6 134.2,296.24 134.2,298.5 C134.2,301.7 142.35,302.6 150.5,302.6 C158.65,302.6 166.8,301.7 166.8,298.5 Z" fill="#fff" stroke="#262626" stroke-width="1.05" />
<path d="M134.2,298.5 C134.2,301.7 142.35,302.6 150.5,302.6 C158.65,302.6 166.8,301.7 166.8,298.5" fill="none" stroke="#1e1e1e" stroke-width="1.45" />
<path d="M159.47,299.4 Q150.5,300.5 141.53,299.4" fill="none" stroke="#666" stroke-width="0.7" stroke-dasharray="1.1 0.9"/>
<path d="M166.8,291.9 C166.8,289.64 158.65,289 150.5,289 C142.35,289 134.2,289.64 134.2,291.9 C134.2,295.1 142.35,296 150.5,296 C158.65,296 166.8,295.1 166.8,291.9 Z" fill="#fff" stroke="#262626" stroke-width="1.05" />
<path d="M134.2,291.9 C134.2,295.1 142.35,296 150.5,296 C158.65,296 166.8,295.1 166.8,291.9" fill="none" stroke="#1e1e1e" stroke-width="1.45" />
<path d="M159.47,292.8 Q150.5,293.9 141.53,292.8" fill="none" stroke="#666" stroke-width="0.7" stroke-dasharray="1.1 0.9"/>
<rect x="27.4" y="321.6" width="88" height="33.4" fill="#fff" stroke="#555" stroke-width="1.0"/>
<text x="29.9" y="335.8" font-size="12" text-anchor="start" fill="#222" stroke="#222" stroke-width="0.2" letter-spacing="0.3" >Min. L:300 mm</text>
<text x="29.9" y="348.7" font-size="12" text-anchor="start" fill="#222" stroke="#222" stroke-width="0.2" letter-spacing="0.3" >Max.L:700 mm</text>
<path d="M69.7,355 C76,368 95,387 133,387.5 L133,386.8 C110,384 92,370 83.4,355 Z" fill="#1a1a1a" stroke="none" stroke-width="1.0" />
<line x1="260.7" y1="295.2" x2="260.7" y2="388.5" stroke="#333" stroke-width="0.9"/>
<path d="M300,341.6 L318.5,341.2 L318.5,361.4 L302,364.8 Z" fill="#fff" stroke="none" stroke-width="1.0" />
<path d="M303,352.5 L318.5,352 L318.5,361.4 L303,364.5 Z" fill="#e3e3e3"/>
<line x1="300" y1="341.6" x2="318.5" y2="341.2" stroke="#222" stroke-width="1.0"/>
<line x1="302" y1="364.8" x2="318.5" y2="361.4" stroke="#222" stroke-width="1.0"/>
<ellipse cx="318.6" cy="351.3" rx="3" ry="10.1" fill="#fff" stroke="#222" stroke-width="1.0" />
<ellipse cx="291.5" cy="357.6" rx="17.2" ry="34.6" fill="#fff" stroke="#222" stroke-width="1.1" />
<path d="M297.5,358.5 L308.5,355.5 Q307.8,378 299,389.5 Q292,392.2 284,392 Z" fill="#e3e3e3"/>
<ellipse cx="291.5" cy="357.6" rx="17.2" ry="34.6" fill="none" stroke="#222" stroke-width="1.1" />
<path d="M279,325.2 L291.5,323 L291.5,392.2 L283.5,391.6 Z" fill="#fff" stroke="none" stroke-width="1.0" />
<line x1="278.5" y1="325.6" x2="291.5" y2="323" stroke="#222" stroke-width="1.0"/>
<ellipse cx="279.2" cy="358.6" rx="18" ry="32.8" fill="#fff" stroke="#222" stroke-width="1.1" />
<path d="M262.5,371 Q270,376 296.5,370.5 Q295,384 283.5,391.4 Q270,390 262.5,371 Z" fill="#e5e5e5"/>
<ellipse cx="279.2" cy="358.6" rx="18" ry="32.8" fill="none" stroke="#222" stroke-width="1.1" />
<ellipse cx="270.6" cy="360.4" rx="9.8" ry="20" fill="#fff" stroke="#222" stroke-width="1.0" />
<path d="M261.5,368 Q268,372 280,369 Q279,378 270.6,380.3 Q264,378 261.5,368 Z" fill="#e5e5e5"/>
<ellipse cx="270.6" cy="360.4" rx="9.8" ry="20" fill="none" stroke="#222" stroke-width="1.0" />
<path d="M254,351.3 L266,350.5 L266,374.6 L254,374.8 Z" fill="#fff" stroke="none" stroke-width="1.0" />
<path d="M254,362 L268,362 L268,374.6 L254,374.8 Z" fill="#e3e3e3"/>
<line x1="254" y1="351.3" x2="266.5" y2="350.3" stroke="#222" stroke-width="1.0"/>
<line x1="254" y1="374.8" x2="266.5" y2="374.8" stroke="#222" stroke-width="1.0"/>
<ellipse cx="271.8" cy="361.5" rx="5" ry="13.2" fill="#fafafa" stroke="#222" stroke-width="1.0" />
<path d="M268.6,351.5 Q265.6,361.5 268.6,371.5" fill="none" stroke="#222" stroke-width="1.3" />
<rect x="232.2" y="276.6" width="57.3" height="18.6" fill="#fff" stroke="#555" stroke-width="1.0"/>
<circle cx="241.2" cy="285.6" r="3.9" fill="none" stroke="#222" stroke-width="0.9"/>
<line x1="236.32" y1="290.48" x2="246.07" y2="280.73" stroke="#222" stroke-width="0.9"/>
<text x="248.3" y="288.8" font-size="12" text-anchor="start" fill="#222" stroke="#222" stroke-width="0.2" letter-spacing="0.3" >76 mm</text>
<rect x="305.2" y="298" width="58" height="18.5" fill="#fff" stroke="#555" stroke-width="1.0"/>
<circle cx="314.6" cy="307.1" r="3.9" fill="none" stroke="#222" stroke-width="0.9"/>
<line x1="309.73" y1="311.98" x2="319.48" y2="302.23" stroke="#222" stroke-width="0.9"/>
<text x="321.9" y="311.3" font-size="12" text-anchor="start" fill="#222" stroke="#222" stroke-width="0.2" letter-spacing="0.3" >32 mm</text>
<line x1="260.7" y1="295.2" x2="260.7" y2="340" stroke="#333" stroke-width="0.9"/>
<path d="M260.7,315.8 L258.4,310.3 L263,310.3 Z" fill="#222"/>
<path d="M260.7,380 L263,385.5 L258.4,385.5 Z" fill="#222"/>
<line x1="260.7" y1="315.6" x2="283.8" y2="328.2" stroke="#333" stroke-width="0.9"/>
<path d="M283.6,328.1 L279.9,327.57 L281.15,325.28 Z" fill="#222"/>
<path d="M283.6,391.5 L279.89,391.11 L281.04,388.78 Z" fill="#222"/>
<line x1="261" y1="380.3" x2="283.8" y2="391.6" stroke="#333" stroke-width="0.9"/>
<line x1="334.4" y1="316.5" x2="334.4" y2="371.5" stroke="#333" stroke-width="0.9"/>
<path d="M334.4,335.6 L332.1,330.1 L336.7,330.1 Z" fill="#222"/>
<path d="M334.4,361.6 L336.7,367.1 L332.1,367.1 Z" fill="#222"/>
<line x1="318.5" y1="341.2" x2="334.4" y2="336" stroke="#333" stroke-width="0.9"/>
<line x1="318.5" y1="361.4" x2="334.4" y2="361.6" stroke="#333" stroke-width="0.9"/>
<g>
<path d="M463.2,397 L521.2,397 L521.2,417.2 Q492.2,421.6 463.2,417.2 Z" fill="#626262"/>
<path d="M463.2,397.5 Q492.2,401.9 521.2,397.5" fill="none" stroke="#bababa" stroke-width="1.05"/>
<path d="M463.2,399 Q492.2,403.4 521.2,399" fill="none" stroke="#1a1a1a" stroke-width="1.05"/>
<path d="M463.2,401.6 Q492.2,406 521.2,401.6" fill="none" stroke="#bababa" stroke-width="1.05"/>
<path d="M463.2,403.1 Q492.2,407.5 521.2,403.1" fill="none" stroke="#1a1a1a" stroke-width="1.05"/>
<path d="M463.2,405.7 Q492.2,410.1 521.2,405.7" fill="none" stroke="#bababa" stroke-width="1.05"/>
<path d="M463.2,407.2 Q492.2,411.6 521.2,407.2" fill="none" stroke="#1a1a1a" stroke-width="1.05"/>
<path d="M463.2,409.8 Q492.2,414.2 521.2,409.8" fill="none" stroke="#bababa" stroke-width="1.05"/>
<path d="M463.2,411.3 Q492.2,415.7 521.2,411.3" fill="none" stroke="#1a1a1a" stroke-width="1.05"/>
<path d="M463.2,413.9 Q492.2,418.3 521.2,413.9" fill="none" stroke="#bababa" stroke-width="1.05"/>
<path d="M463.2,415.4 Q492.2,419.8 521.2,415.4" fill="none" stroke="#1a1a1a" stroke-width="1.05"/>
<path d="M463.2,397 Q461.6,399.05 463.2,401.1 Q461.6,403.15 463.2,405.2 Q461.6,407.25 463.2,409.3 Q461.6,411.35 463.2,413.4" fill="#626262" stroke="#333" stroke-width="0.8"/>
<path d="M521.2,397 Q522.8,399.05 521.2,401.1 Q522.8,403.15 521.2,405.2 Q522.8,407.25 521.2,409.3 Q522.8,411.35 521.2,413.4" fill="#626262" stroke="#333" stroke-width="0.8"/>
</g>
<path d="M463.2,396 L463.2,417.6 Q492,423.5 521.2,417.6 L521.2,396" fill="none" stroke="#222" stroke-width="1.0" />
<path d="M460.5,345 L460.5,396 Q492,404 523.5,396 L523.5,345 Z" fill="#fff" stroke="#222" stroke-width="1.1" />
<path d="M503,348 L523,348 L523,396.3 Q515,398.8 503,399.6 Z" fill="#e6e6e6"/>
<path d="M460.5,345 L460.5,396 Q492,404 523.5,396 L523.5,345" fill="none" stroke="#222" stroke-width="1.1" />
<path d="M443,338.6 L443,348.1 A48.5,8.4 0 0 0 540,348.1 L540,338.6 Z" fill="#fff" stroke="#222" stroke-width="1.1" />
<path d="M515,345 L539.5,339 L539.5,348.1 Q532,354 515,356 Z" fill="#e8e8e8"/>
<path d="M443,338.6 L443,348.1 A48.5,8.4 0 0 0 540,348.1 L540,338.6" fill="none" stroke="#222" stroke-width="1.1" />
<ellipse cx="491.5" cy="338.6" rx="48.5" ry="7.6" fill="#fff" stroke="#222" stroke-width="1.1" />
<ellipse cx="491.5" cy="339" rx="45.5" ry="6.3" fill="none" stroke="#666" stroke-width="0.7" />
<ellipse cx="492" cy="342.4" rx="31.6" ry="5.7" fill="#fff" stroke="#222" stroke-width="1.0" />
<ellipse cx="492" cy="342.5" rx="28.6" ry="3.7" fill="#f4f4f4" stroke="#222" stroke-width="0.9" />
<path d="M466,343.6 Q492,349.5 518,343.6" fill="none" stroke="#555" stroke-width="1.4" />
<g>
<path d="M465.2,259.6 L519,259.6 L519,333 Q492.1,338.2 465.2,333 Z" fill="#626262"/>
<path d="M465.2,260.1 Q492.1,265.3 519,260.1" fill="none" stroke="#bababa" stroke-width="1.05"/>
<path d="M465.2,261.6 Q492.1,266.8 519,261.6" fill="none" stroke="#1a1a1a" stroke-width="1.05"/>
<path d="M465.2,263.15 Q492.1,268.35 519,263.15" fill="none" stroke="#bababa" stroke-width="1.05"/>
<path d="M465.2,264.65 Q492.1,269.85 519,264.65" fill="none" stroke="#1a1a1a" stroke-width="1.05"/>
<path d="M465.2,266.2 Q492.1,271.4 519,266.2" fill="none" stroke="#bababa" stroke-width="1.05"/>
<path d="M465.2,267.7 Q492.1,272.9 519,267.7" fill="none" stroke="#1a1a1a" stroke-width="1.05"/>
<path d="M465.2,269.25 Q492.1,274.45 519,269.25" fill="none" stroke="#bababa" stroke-width="1.05"/>
<path d="M465.2,270.75 Q492.1,275.95 519,270.75" fill="none" stroke="#1a1a1a" stroke-width="1.05"/>
<path d="M465.2,272.3 Q492.1,277.5 519,272.3" fill="none" stroke="#bababa" stroke-width="1.05"/>
<path d="M465.2,273.8 Q492.1,279 519,273.8" fill="none" stroke="#1a1a1a" stroke-width="1.05"/>
<path d="M465.2,275.35 Q492.1,280.55 519,275.35" fill="none" stroke="#bababa" stroke-width="1.05"/>
<path d="M465.2,276.85 Q492.1,282.05 519,276.85" fill="none" stroke="#1a1a1a" stroke-width="1.05"/>
<path d="M465.2,278.4 Q492.1,283.6 519,278.4" fill="none" stroke="#bababa" stroke-width="1.05"/>
<path d="M465.2,279.9 Q492.1,285.1 519,279.9" fill="none" stroke="#1a1a1a" stroke-width="1.05"/>
<path d="M465.2,281.45 Q492.1,286.65 519,281.45" fill="none" stroke="#bababa" stroke-width="1.05"/>
<path d="M465.2,282.95 Q492.1,288.15 519,282.95" fill="none" stroke="#1a1a1a" stroke-width="1.05"/>
<path d="M465.2,284.5 Q492.1,289.7 519,284.5" fill="none" stroke="#bababa" stroke-width="1.05"/>
<path d="M465.2,286 Q492.1,291.2 519,286" fill="none" stroke="#1a1a1a" stroke-width="1.05"/>
<path d="M465.2,287.55 Q492.1,292.75 519,287.55" fill="none" stroke="#bababa" stroke-width="1.05"/>
<path d="M465.2,289.05 Q492.1,294.25 519,289.05" fill="none" stroke="#1a1a1a" stroke-width="1.05"/>
<path d="M465.2,290.6 Q492.1,295.8 519,290.6" fill="none" stroke="#bababa" stroke-width="1.05"/>
<path d="M465.2,292.1 Q492.1,297.3 519,292.1" fill="none" stroke="#1a1a1a" stroke-width="1.05"/>
<path d="M465.2,293.65 Q492.1,298.85 519,293.65" fill="none" stroke="#bababa" stroke-width="1.05"/>
<path d="M465.2,295.15 Q492.1,300.35 519,295.15" fill="none" stroke="#1a1a1a" stroke-width="1.05"/>
<path d="M465.2,296.7 Q492.1,301.9 519,296.7" fill="none" stroke="#bababa" stroke-width="1.05"/>
<path d="M465.2,298.2 Q492.1,303.4 519,298.2" fill="none" stroke="#1a1a1a" stroke-width="1.05"/>
<path d="M465.2,299.75 Q492.1,304.95 519,299.75" fill="none" stroke="#bababa" stroke-width="1.05"/>
<path d="M465.2,301.25 Q492.1,306.45 519,301.25" fill="none" stroke="#1a1a1a" stroke-width="1.05"/>
<path d="M465.2,302.8 Q492.1,308 519,302.8" fill="none" stroke="#bababa" stroke-width="1.05"/>
<path d="M465.2,304.3 Q492.1,309.5 519,304.3" fill="none" stroke="#1a1a1a" stroke-width="1.05"/>
<path d="M465.2,305.85 Q492.1,311.05 519,305.85" fill="none" stroke="#bababa" stroke-width="1.05"/>
<path d="M465.2,307.35 Q492.1,312.55 519,307.35" fill="none" stroke="#1a1a1a" stroke-width="1.05"/>
<path d="M465.2,308.9 Q492.1,314.1 519,308.9" fill="none" stroke="#bababa" stroke-width="1.05"/>
<path d="M465.2,310.4 Q492.1,315.6 519,310.4" fill="none" stroke="#1a1a1a" stroke-width="1.05"/>
<path d="M465.2,311.95 Q492.1,317.15 519,311.95" fill="none" stroke="#bababa" stroke-width="1.05"/>
<path d="M465.2,313.45 Q492.1,318.65 519,313.45" fill="none" stroke="#1a1a1a" stroke-width="1.05"/>
<path d="M465.2,315 Q492.1,320.2 519,315" fill="none" stroke="#bababa" stroke-width="1.05"/>
<path d="M465.2,316.5 Q492.1,321.7 519,316.5" fill="none" stroke="#1a1a1a" stroke-width="1.05"/>
<path d="M465.2,318.05 Q492.1,323.25 519,318.05" fill="none" stroke="#bababa" stroke-width="1.05"/>
<path d="M465.2,319.55 Q492.1,324.75 519,319.55" fill="none" stroke="#1a1a1a" stroke-width="1.05"/>
<path d="M465.2,321.1 Q492.1,326.3 519,321.1" fill="none" stroke="#bababa" stroke-width="1.05"/>
<path d="M465.2,322.6 Q492.1,327.8 519,322.6" fill="none" stroke="#1a1a1a" stroke-width="1.05"/>
<path d="M465.2,324.15 Q492.1,329.35 519,324.15" fill="none" stroke="#bababa" stroke-width="1.05"/>
<path d="M465.2,325.65 Q492.1,330.85 519,325.65" fill="none" stroke="#1a1a1a" stroke-width="1.05"/>
<path d="M465.2,327.2 Q492.1,332.4 519,327.2" fill="none" stroke="#bababa" stroke-width="1.05"/>
<path d="M465.2,328.7 Q492.1,333.9 519,328.7" fill="none" stroke="#1a1a1a" stroke-width="1.05"/>
<path d="M465.2,330.25 Q492.1,335.45 519,330.25" fill="none" stroke="#bababa" stroke-width="1.05"/>
<path d="M465.2,331.75 Q492.1,336.95 519,331.75" fill="none" stroke="#1a1a1a" stroke-width="1.05"/>
<path d="M465.2,333.3 Q492.1,338.5 519,333.3" fill="none" stroke="#bababa" stroke-width="1.05"/>
<path d="M465.2,334.8 Q492.1,340 519,334.8" fill="none" stroke="#1a1a1a" stroke-width="1.05"/>
<path d="M465.2,259.6 Q463.6,261.12 465.2,262.65 Q463.6,264.18 465.2,265.7 Q463.6,267.23 465.2,268.75 Q463.6,270.28 465.2,271.8 Q463.6,273.33 465.2,274.85 Q463.6,276.38 465.2,277.9 Q463.6,279.43 465.2,280.95 Q463.6,282.48 465.2,284 Q463.6,285.53 465.2,287.05 Q463.6,288.58 465.2,290.1 Q463.6,291.63 465.2,293.15 Q463.6,294.68 465.2,296.2 Q463.6,297.73 465.2,299.25 Q463.6,300.78 465.2,302.3 Q463.6,303.83 465.2,305.35 Q463.6,306.88 465.2,308.4 Q463.6,309.93 465.2,311.45 Q463.6,312.98 465.2,314.5 Q463.6,316.03 465.2,317.55 Q463.6,319.08 465.2,320.6 Q463.6,322.13 465.2,323.65 Q463.6,325.18 465.2,326.7 Q463.6,328.23 465.2,329.75 Q463.6,331.28 465.2,332.8" fill="#626262" stroke="#333" stroke-width="0.8"/>
<path d="M519,259.6 Q520.6,261.12 519,262.65 Q520.6,264.18 519,265.7 Q520.6,267.23 519,268.75 Q520.6,270.28 519,271.8 Q520.6,273.33 519,274.85 Q520.6,276.38 519,277.9 Q520.6,279.43 519,280.95 Q520.6,282.48 519,284 Q520.6,285.53 519,287.05 Q520.6,288.58 519,290.1 Q520.6,291.63 519,293.15 Q520.6,294.68 519,296.2 Q520.6,297.73 519,299.25 Q520.6,300.78 519,302.3 Q520.6,303.83 519,305.35 Q520.6,306.88 519,308.4 Q520.6,309.93 519,311.45 Q520.6,312.98 519,314.5 Q520.6,316.03 519,317.55 Q520.6,319.08 519,320.6 Q520.6,322.13 519,323.65 Q520.6,325.18 519,326.7 Q520.6,328.23 519,329.75 Q520.6,331.28 519,332.8" fill="#626262" stroke="#333" stroke-width="0.8"/>
</g>
<path d="M465.2,259.6 L465.2,333 M519,259.6 L519,333" fill="none" stroke="#333" stroke-width="0.9" />
<path d="M447.2,302.3 L447.2,307.0 A44.3,7.0 0 0 0 535.8,307.0 L535.8,302.3 Z" fill="#fff" stroke="#222" stroke-width="1.0" />
<path d="M515,308.3 L535.3,303 L535.3,307.0 Q530,312.5 515,313.6 Z" fill="#e6e6e6"/>
<path d="M447.2,302.3 L447.2,307.0 A44.3,7.0 0 0 0 535.8,307.0 L535.8,302.3" fill="none" stroke="#222" stroke-width="1.0" />
<ellipse cx="491.5" cy="302.3" rx="44.3" ry="7" fill="#fff" stroke="#222" stroke-width="1.0" />
<ellipse cx="491.5" cy="302.6" rx="41.3" ry="5.7" fill="none" stroke="#777" stroke-width="0.6" />
<ellipse cx="491.5" cy="288.3" rx="41" ry="6.2" fill="#fff" stroke="#222" stroke-width="1.0" />
<ellipse cx="491.5" cy="288.9" rx="37.6" ry="4.8" fill="#fff" stroke="#555" stroke-width="0.8" />
<g clip-path="url(#cupclip)">
<path d="M465.2,259.6 L519,259.6 L519,291 Q492.1,296.2 465.2,291 Z" fill="#626262"/>
<path d="M465.2,260.1 Q492.1,265.3 519,260.1" fill="none" stroke="#bababa" stroke-width="1.05"/>
<path d="M465.2,261.6 Q492.1,266.8 519,261.6" fill="none" stroke="#1a1a1a" stroke-width="1.05"/>
<path d="M465.2,263.15 Q492.1,268.35 519,263.15" fill="none" stroke="#bababa" stroke-width="1.05"/>
<path d="M465.2,264.65 Q492.1,269.85 519,264.65" fill="none" stroke="#1a1a1a" stroke-width="1.05"/>
<path d="M465.2,266.2 Q492.1,271.4 519,266.2" fill="none" stroke="#bababa" stroke-width="1.05"/>
<path d="M465.2,267.7 Q492.1,272.9 519,267.7" fill="none" stroke="#1a1a1a" stroke-width="1.05"/>
<path d="M465.2,269.25 Q492.1,274.45 519,269.25" fill="none" stroke="#bababa" stroke-width="1.05"/>
<path d="M465.2,270.75 Q492.1,275.95 519,270.75" fill="none" stroke="#1a1a1a" stroke-width="1.05"/>
<path d="M465.2,272.3 Q492.1,277.5 519,272.3" fill="none" stroke="#bababa" stroke-width="1.05"/>
<path d="M465.2,273.8 Q492.1,279 519,273.8" fill="none" stroke="#1a1a1a" stroke-width="1.05"/>
<path d="M465.2,275.35 Q492.1,280.55 519,275.35" fill="none" stroke="#bababa" stroke-width="1.05"/>
<path d="M465.2,276.85 Q492.1,282.05 519,276.85" fill="none" stroke="#1a1a1a" stroke-width="1.05"/>
<path d="M465.2,278.4 Q492.1,283.6 519,278.4" fill="none" stroke="#bababa" stroke-width="1.05"/>
<path d="M465.2,279.9 Q492.1,285.1 519,279.9" fill="none" stroke="#1a1a1a" stroke-width="1.05"/>
<path d="M465.2,281.45 Q492.1,286.65 519,281.45" fill="none" stroke="#bababa" stroke-width="1.05"/>
<path d="M465.2,282.95 Q492.1,288.15 519,282.95" fill="none" stroke="#1a1a1a" stroke-width="1.05"/>
<path d="M465.2,284.5 Q492.1,289.7 519,284.5" fill="none" stroke="#bababa" stroke-width="1.05"/>
<path d="M465.2,286 Q492.1,291.2 519,286" fill="none" stroke="#1a1a1a" stroke-width="1.05"/>
<path d="M465.2,287.55 Q492.1,292.75 519,287.55" fill="none" stroke="#bababa" stroke-width="1.05"/>
<path d="M465.2,289.05 Q492.1,294.25 519,289.05" fill="none" stroke="#1a1a1a" stroke-width="1.05"/>
<path d="M465.2,290.6 Q492.1,295.8 519,290.6" fill="none" stroke="#bababa" stroke-width="1.05"/>
<path d="M465.2,292.1 Q492.1,297.3 519,292.1" fill="none" stroke="#1a1a1a" stroke-width="1.05"/>
<path d="M465.2,259.6 Q463.6,261.12 465.2,262.65 Q463.6,264.18 465.2,265.7 Q463.6,267.23 465.2,268.75 Q463.6,270.28 465.2,271.8 Q463.6,273.33 465.2,274.85 Q463.6,276.38 465.2,277.9 Q463.6,279.43 465.2,280.95 Q463.6,282.48 465.2,284 Q463.6,285.53 465.2,287.05 Q463.6,288.58 465.2,290.1" fill="#626262" stroke="#333" stroke-width="0.8"/>
<path d="M519,259.6 Q520.6,261.12 519,262.65 Q520.6,264.18 519,265.7 Q520.6,267.23 519,268.75 Q520.6,270.28 519,271.8 Q520.6,273.33 519,274.85 Q520.6,276.38 519,277.9 Q520.6,279.43 519,280.95 Q520.6,282.48 519,284 Q520.6,285.53 519,287.05 Q520.6,288.58 519,290.1" fill="#626262" stroke="#333" stroke-width="0.8"/>
</g>
<path d="M450.5,288.3 A41,6.2 0 0 0 532.5,288.3 L520.5,302.0 A29,2.8 0 0 1 462.5,302.0 Z" fill="#fff" stroke="#222" stroke-width="1.0" />
<path d="M467,297 Q500,300 529.5,292 L520.3,302.1 Q505,305 475,304.2 Z" fill="#e4e4e4"/>
<path d="M450.5,288.3 A41,6.2 0 0 0 532.5,288.3 L520.5,302.0 A29,2.8 0 0 1 462.5,302.0 Z" fill="none" stroke="#222" stroke-width="1.0" />
<path d="M448.3,241 L448.3,244.6 L461.5,259 Q492,263.5 521.5,259 L534.9,244.6 L534.9,241 Z" fill="#fff" stroke="#222" stroke-width="1.0" />
<path d="M452,249 Q492,256 531,249 L521.3,258.9 Q492,263.5 461.8,258.9 Z" fill="#ebebeb"/>
<path d="M478,252.5 Q505,253 532,246 L521.3,258.9 Q505,262 482,261.5 Z" fill="#e0e0e0"/>
<path d="M448.3,241 L448.3,244.6 L461.5,259 Q492,263.5 521.5,259 L534.9,244.6 L534.9,241" fill="none" stroke="#222" stroke-width="1.0" />
<path d="M448.3,244.6 A43.3,6.8 0 0 0 534.9,244.6" fill="none" stroke="#222" stroke-width="0.9" />
<ellipse cx="491.6" cy="241" rx="43.3" ry="6.7" fill="#fff" stroke="#222" stroke-width="1.0" />
<ellipse cx="491.6" cy="241.3" rx="39" ry="5.4" fill="none" stroke="#555" stroke-width="0.7" />
<ellipse cx="491.8" cy="241.8" rx="33" ry="4.5" fill="#f2f2f2" stroke="#222" stroke-width="0.9" />
<ellipse cx="491.8" cy="242.4" rx="27" ry="3.6" fill="#fff" stroke="#444" stroke-width="0.8" />
<ellipse cx="491.8" cy="243" rx="22" ry="2.6" fill="#8a8a8a" stroke="#333" stroke-width="0.7" />
<path d="M472,231 L472,240.2 Q490.5,244 509,240.2 L509,231 Z" fill="#fff" stroke="#222" stroke-width="0.9" />
<path d="M497,232 L508.6,232 L508.6,240.3 Q503,241.8 497,242 Z" fill="#e6e6e6"/>
<path d="M472,231 L472,240.2 Q490.5,244 509,240.2 L509,231" fill="none" stroke="#222" stroke-width="0.9" />
<path d="M441,223.5 Q441.5,214 454.6,208.3 A42,9.5 0 0 1 527.4,208.3 Q540.5,214 541,223.5 A50,10.3 0 0 1 441,223.5 Z" fill="#fff" stroke="#222" stroke-width="1.1" />
<path d="M522,219 Q533,214.5 537,213 Q540.5,217 540.5,223.5 Q538,229 525,232 Z" fill="#e4e4e4"/>
<path d="M441,223.5 Q441.5,214 454.6,208.3 A42,9.5 0 0 1 527.4,208.3 Q540.5,214 541,223.5 A50,10.3 0 0 1 441,223.5 Z" fill="none" stroke="#2a2a2a" stroke-width="0.95" />
<ellipse cx="491" cy="213" rx="42" ry="9.5" fill="none" stroke="#222" stroke-width="0.9" />
<path d="M441.5,226 A49.5,8.2 0 0 0 540.5,226" fill="none" stroke="#222" stroke-width="0.8" />
<line x1="440.7" y1="187.8" x2="440.7" y2="222.5" stroke="#333" stroke-width="0.8"/>
<line x1="540.2" y1="186.8" x2="540.2" y2="222.5" stroke="#333" stroke-width="0.8"/>
<line x1="440.7" y1="187.8" x2="469" y2="187.4" stroke="#333" stroke-width="0.8"/>
<line x1="511" y1="187" x2="540.2" y2="186.8" stroke="#333" stroke-width="0.8"/>
<path d="M440.7,187.8 L445.2,186.3 L445.2,189.3 Z" fill="#222"/>
<path d="M540.2,186.8 L535.7,188.3 L535.7,185.3 Z" fill="#222"/>
<text x="490.2" y="191.4" font-size="10" text-anchor="middle" fill="#222" stroke="#222" stroke-width="0.2" >Ø73 mm</text>
<text x="392.6" y="249.4" font-size="10" text-anchor="start" fill="#222" stroke="#222" stroke-width="0.2" >Ø60 mm</text>
<path d="M432.3,247.5 L441,247.5 L449.3,244.6" fill="none" stroke="#333" stroke-width="0.8" />
<text x="393.6" y="269.2" font-size="10" text-anchor="start" fill="#222" stroke="#222" stroke-width="0.2" >G1-1/4"</text>
<path d="M430,267.2 L437.6,267.2 L460.6,256.6" fill="none" stroke="#333" stroke-width="0.8" />
<line x1="535.5" y1="241.3" x2="558.4" y2="241.8" stroke="#333" stroke-width="0.8"/>
<line x1="558.4" y1="241.8" x2="558.4" y2="269.5" stroke="#333" stroke-width="0.8"/>
<line x1="558.4" y1="285.5" x2="558.4" y2="332.1" stroke="#333" stroke-width="0.8"/>
<line x1="519.5" y1="331" x2="558.4" y2="332.1" stroke="#333" stroke-width="0.8"/>
<path d="M558.4,241.8 L559.9,246.3 L556.9,246.3 Z" fill="#222"/>
<path d="M558.4,332.1 L556.9,327.6 L559.9,327.6 Z" fill="#222"/>
<circle cx="537.4" cy="330.3" r="1.2" fill="#111"/>
<text x="558.4" y="281.6" font-size="10" text-anchor="middle" fill="#222" stroke="#222" stroke-width="0.2" >55 mm</text>
<line x1="410" y1="342.6" x2="445" y2="341.6" stroke="#333" stroke-width="0.8"/>
<line x1="410" y1="342.6" x2="410" y2="368.5" stroke="#333" stroke-width="0.8"/>
<line x1="410" y1="382" x2="410" y2="420.3" stroke="#333" stroke-width="0.8"/>
<path d="M410,342.6 L411.5,347.1 L408.5,347.1 Z" fill="#222"/>
<path d="M410,420.3 L408.5,415.8 L411.5,415.8 Z" fill="#222"/>
<line x1="410" y1="420.5" x2="461" y2="419.5" stroke="#333" stroke-width="0.8"/>
<path d="M461,419.5 L457.03,420.88 L456.97,418.28 Z" fill="#222"/>
<text x="410.3" y="378.6" font-size="10" text-anchor="middle" fill="#222" stroke="#222" stroke-width="0.2" >58 mm</text>
<line x1="422.5" y1="391" x2="422.5" y2="424.5" stroke="#333" stroke-width="0.8"/>
<path d="M422.5,397 L421.1,393 L423.9,393 Z" fill="#222"/>
<path d="M422.5,417 L423.9,421 L421.1,421 Z" fill="#222"/>
<line x1="422.5" y1="397" x2="460.5" y2="396.6" stroke="#333" stroke-width="0.8"/>
<line x1="422.5" y1="417" x2="464" y2="416.8" stroke="#333" stroke-width="0.8"/>
<text x="423" y="435.3" font-size="10" text-anchor="middle" fill="#222" stroke="#222" stroke-width="0.2" >15 mm</text>
<line x1="465" y1="418.5" x2="465" y2="437.5" stroke="#333" stroke-width="0.8"/>
<line x1="520.2" y1="418.5" x2="520.2" y2="437.5" stroke="#333" stroke-width="0.8"/>
<path d="M465,437 L468.5,435.7 L468.5,438.3 Z" fill="#222"/>
<path d="M520.2,437 L516.7,438.3 L516.7,435.7 Z" fill="#222"/>
<circle cx="474.8" cy="434.6" r="2.9" fill="none" stroke="#222" stroke-width="0.8"/>
<line x1="471.18" y1="438.23" x2="478.43" y2="430.98" stroke="#222" stroke-width="0.8"/>
<text x="482.2" y="438.4" font-size="10" text-anchor="start" fill="#222" stroke="#222" stroke-width="0.2" >G1-1/4"</text>
<line x1="445" y1="341.6" x2="445" y2="452" stroke="#333" stroke-width="0.8"/>
<line x1="541" y1="348" x2="541" y2="452" stroke="#333" stroke-width="0.8"/>
<line x1="445" y1="450.8" x2="473" y2="450.8" stroke="#333" stroke-width="0.8"/>
<line x1="515.5" y1="450.8" x2="541" y2="450.8" stroke="#333" stroke-width="0.8"/>
<path d="M445,450.8 L449.5,449.3 L449.5,452.3 Z" fill="#222"/>
<path d="M541,450.8 L536.5,452.3 L536.5,449.3 Z" fill="#222"/>
<circle cx="478.5" cy="447.6" r="3.3" fill="none" stroke="#222" stroke-width="0.8"/>
<line x1="474.38" y1="451.73" x2="482.62" y2="443.48" stroke="#222" stroke-width="0.8"/>
<text x="485" y="452.2" font-size="10" text-anchor="start" fill="#222" stroke="#222" stroke-width="0.2" >70 mm</text>
</svg></body></html>
